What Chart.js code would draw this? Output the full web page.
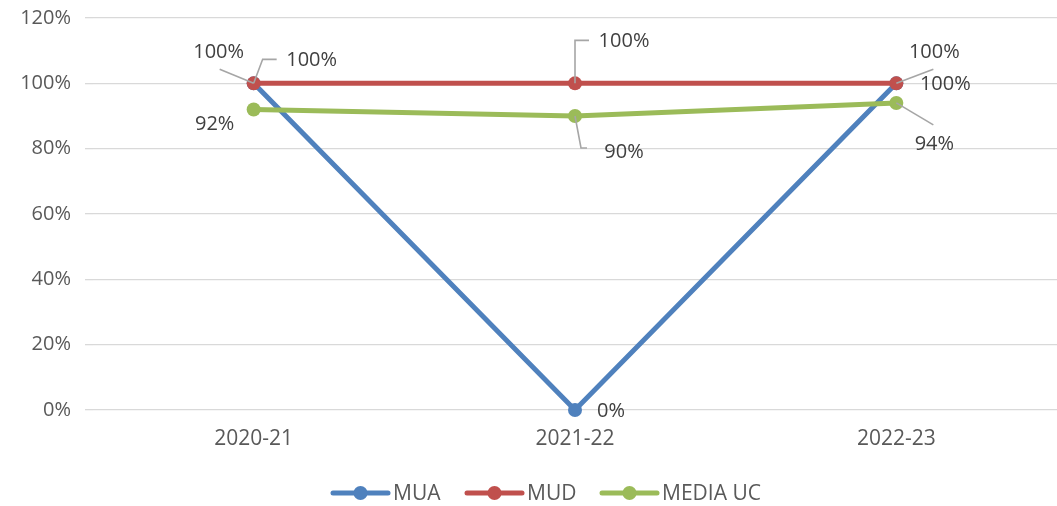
<!DOCTYPE html>
<html>
<head>
<meta charset="utf-8">
<script src="https://cdn.jsdelivr.net/npm/chart.js@4/dist/chart.umd.min.js"></script>
<style>
  html, body { margin: 0; padding: 0; background: #fff; }
  #wrap { width: 1057px; height: 506px; }
</style>
</head>
<body>
<div id="wrap"><canvas id="myChart"></canvas></div>
<script>
const years = ["2020-21", "2021-22", "2022-23"];
const muaValues = [100, 0, 100];
const mudValues = [100, 100, 100];
const mediaValues = [92, 90, 94];
const yTicks = [0, 20, 40, 60, 80, 100, 120];

const lineColors = ["#4f81bd", "#c0504d", "#9bbb59"];
const seriesNames = ["MUA", "MUD", "MEDIA UC"];
const fontName = "'Open Sans', 'Liberation Sans', sans-serif";

// label offsets from the point (dx, dy) and optional leader elbow
const labelPlace = [
  [{ dx: -35, dy: -31, lead: [[-34, -14]] }, { dx: 36, dy: 1, lead: null }, { dx: 38, dy: -31, lead: [[37, -14]] }],
  [{ dx: 58, dy: -23, lead: [[23, -24], [9, -24]] }, { dx: 49, dy: -42, lead: [[14, -43], [0, -43]] }, { dx: 49, dy: 1, lead: null }],
  [{ dx: -39, dy: 15, lead: null }, { dx: 49, dy: 36, lead: [[12, 32], [6, 32]] }, { dx: 38, dy: 41, lead: [[37, 22]] }]
];

const labelPlugin = {
  id: "pointLabels",
  afterDatasetsDraw(chart) {
    const ctx = chart.ctx;
    ctx.save();
    ctx.font = "20px " + fontName;
    ctx.textAlign = "center";
    ctx.textBaseline = "middle";
    chart.data.datasets.forEach((ds, i) => {
      const meta = chart.getDatasetMeta(i);
      meta.data.forEach((pt, j) => {
        const p = labelPlace[i][j];
        if (p.lead) {
          ctx.strokeStyle = "#a6a6a6";
          ctx.lineWidth = 1.6;
          ctx.beginPath();
          ctx.moveTo(pt.x + p.lead[0][0], pt.y + p.lead[0][1]);
          for (let k = 1; k < p.lead.length; k++) {
            ctx.lineTo(pt.x + p.lead[k][0], pt.y + p.lead[k][1]);
          }
          ctx.lineTo(pt.x, pt.y);
          ctx.stroke();
        }
        ctx.fillStyle = "#404040";
        ctx.fillText(ds.data[j] + "%", pt.x + p.dx, pt.y + p.dy);
      });
    });
    ctx.restore();
  }
};

const legendPlugin = {
  id: "bottomLegend",
  afterDraw(chart) {
    const ctx = chart.ctx;
    const y = 493;
    const starts = [333, 467, 602];
    ctx.save();
    ctx.font = "21px " + fontName;
    ctx.textBaseline = "middle";
    ctx.textAlign = "left";
    seriesNames.forEach((name, i) => {
      const x = starts[i];
      ctx.strokeStyle = lineColors[i];
      ctx.lineWidth = 5;
      ctx.lineCap = "round";
      ctx.beginPath();
      ctx.moveTo(x, y);
      ctx.lineTo(x + 55, y);
      ctx.stroke();
      ctx.fillStyle = lineColors[i];
      ctx.beginPath();
      ctx.arc(x + 27.5, y, 7, 0, Math.PI * 2);
      ctx.fill();
      ctx.fillStyle = "#595959";
      ctx.fillText(name, x + 60, y + 1);
    });
    ctx.restore();
  }
};

const allData = [muaValues, mudValues, mediaValues];

new Chart("myChart", {
  type: "line",
  data: {
    labels: years,
    datasets: allData.map((vals, i) => ({
      label: seriesNames[i],
      data: vals,
      borderColor: lineColors[i],
      backgroundColor: lineColors[i],
      borderWidth: 5,
      pointRadius: 7,
      pointHoverRadius: 7,
      pointBorderWidth: 0,
      tension: 0,
      clip: false,
      order: 3 - i
    }))
  },
  options: {
    responsive: true,
    maintainAspectRatio: false,
    animation: false,
    layout: { autoPadding: false, padding: { top: 18, right: 0, left: 0, bottom: 0 } },
    plugins: {
      legend: { display: false },
      tooltip: { enabled: false }
    },
    scales: {
      x: {
        offset: true,
        grid: { display: false, drawTicks: false },
        border: { display: false },
        ticks: { color: "#595959", font: { family: fontName, size: 21 }, padding: 16 },
        afterFit(scale) {
          scale.height = 96;
          scale.paddingLeft = 0;
          scale.paddingRight = 0;
        }
      },
      y: {
        min: 0,
        max: 120,
        afterBuildTicks(scale) { scale.ticks = yTicks.map(v => ({ value: v })); },
        grid: { color: "#d9d9d9", lineWidth: 1.3, tickLength: 8 },
        border: { display: false },
        ticks: {
          color: "#595959",
          font: { family: fontName, size: 20 },
          padding: 14,
          callback: v => v + "%"
        },
        afterFit(scale) {
          scale.width = 93;
          scale.paddingTop = 0;
          scale.paddingBottom = 0;
        }
      }
    }
  },
  plugins: [labelPlugin, legendPlugin]
});
</script>
</body>
</html>
